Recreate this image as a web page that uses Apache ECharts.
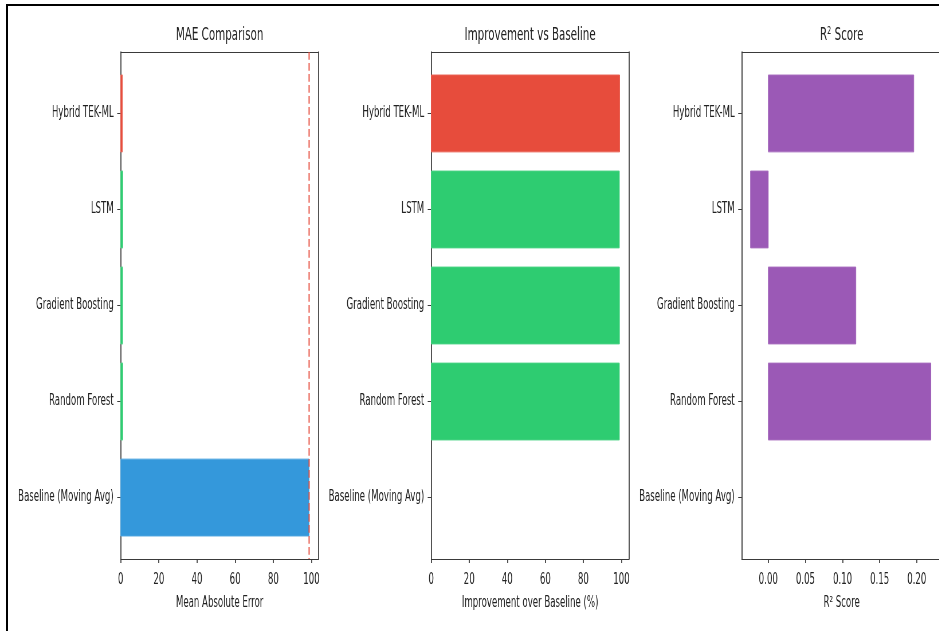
<!DOCTYPE html>
<html>
<head>
<meta charset="utf-8">
<script src="https://cdn.jsdelivr.net/npm/echarts@6/dist/echarts.min.js"></script>
<style>
html, body { margin: 0; padding: 0; background: #fff; overflow: hidden; }
#clip { position: absolute; left: 0; top: 0; width: 939px; height: 631px; overflow: hidden; }
#chart { position: absolute; left: 0; top: 0; height: 631px; transform-origin: 0 0; }
#frame { position: absolute; left: 6px; top: 4px; width: 939px; height: 631px;
         border-top: 2px solid #000; border-left: 2px solid #000; pointer-events: none; }
</style>
</head>
<body>
<div id="clip"><div id="chart"></div></div>
<div id="frame"></div>
<script>
// the source figure is squeezed horizontally, so draw wide and scale down in x
const SX = 0.573;

const categories = ['Hybrid TEK-ML', 'LSTM', 'Gradient Boosting', 'Random Forest', 'Baseline (Moving Avg)'];
const maeValues = [0.9, 1.05, 1.0, 1.05, 98.8];
const improvementValues = [99.1, 98.95, 99.0, 98.95, 0];
const r2Values = [0.196, -0.024, 0.118, 0.219, 0];
const modelColors = ['#e74c3c', '#2ecc71', '#2ecc71', '#2ecc71', '#3498db'];
const r2Colors = ['#9b59b6', '#9b59b6', '#9b59b6', '#9b59b6', '#9b59b6'];
const maeTicks = [0, 20, 40, 60, 80, 100];
const improvementTicks = [0, 20, 40, 60, 80, 100];
const r2Ticks = [0, 0.05, 0.1, 0.15, 0.2];
const categoryTicks = [0, 1, 2, 3, 4];

const Y_MIN = -0.64, Y_MAX = 4.64, BAR_H = 0.8;
const FONT = 'DejaVu Sans';
const INK = '#222';
const SPINE = '#3a3a3a';

// last panel runs past the right edge of the picture
const panels = [
    { title: 'MAE Comparison', xName: 'Mean Absolute Error', values: maeValues, colors: modelColors,
      ticks: maeTicks, min: 0, max: 103.7, digits: 0, left: 120.7, width: 197.8 },
    { title: 'Improvement vs Baseline', xName: 'Improvement over Baseline (%)', values: improvementValues, colors: modelColors,
      ticks: improvementTicks, min: 0, max: 104, digits: 0, left: 431.2, width: 197.8 },
    { title: 'R² Score', xName: 'R² Score', values: r2Values, colors: r2Colors,
      ticks: r2Ticks, min: -0.0358, max: 0.2336, digits: 2, left: 741.7, width: 200 }
];

const chartDom = document.getElementById('chart');
chartDom.style.width = Math.ceil(944 / SX) + 'px';
chartDom.style.transform = 'scaleX(' + SX + ')';

function renderBar(params, api) {
    const v = api.value(0);
    const k = api.value(1);
    if (!v) return null;
    const a = api.coord([0, k]);
    const b = api.coord([v, k]);
    const h = Math.abs(api.size([0, BAR_H])[1]);
    const fill = api.visual('color');
    return {
        type: 'rect',
        shape: { x: Math.min(a[0], b[0]), y: a[1] - h / 2, width: Math.abs(b[0] - a[0]), height: h },
        style: { fill: fill, stroke: echarts.color.lift(fill, 0.12), lineWidth: 1 }
    };
}

const grid = [], xAxis = [], yAxis = [], series = [];
panels.forEach((p, i) => {
    grid.push({ left: p.left / SX, top: 52, width: p.width / SX, height: 507, outerBoundsMode: 'none' });
    // bottom axis
    xAxis.push({
        type: 'value', gridIndex: i, position: 'bottom', min: p.min, max: p.max,
        axisLine: { onZero: false, lineStyle: { color: SPINE, width: 1 } },
        axisTick: { customValues: p.ticks, length: 4, lineStyle: { color: SPINE, width: 1 / SX } },
        axisLabel: { customValues: p.ticks, margin: 14, fontSize: 15, color: INK, fontFamily: FONT,
                     formatter: v => v.toFixed(p.digits) },
        splitLine: { show: false },
        name: p.xName, nameLocation: 'middle', nameGap: 37,
        nameTextStyle: { fontSize: 15, color: INK, fontFamily: FONT }
    });
    // top spine + panel title
    xAxis.push({
        type: 'value', gridIndex: i, position: 'top', min: p.min, max: p.max,
        axisLine: { onZero: false, lineStyle: { color: SPINE, width: 1 } },
        axisTick: { show: false }, axisLabel: { show: false }, splitLine: { show: false },
        name: p.title, nameLocation: 'middle', nameGap: 8,
        nameTextStyle: { fontSize: 18, color: INK, fontFamily: FONT }
    });
    // left axis with model names
    yAxis.push({
        type: 'value', gridIndex: i, position: 'left', inverse: true, min: Y_MIN, max: Y_MAX,
        axisLine: { onZero: false, lineStyle: { color: SPINE, width: 1 / SX } },
        axisTick: { customValues: categoryTicks, length: 3.5 / SX, lineStyle: { color: SPINE, width: 1 } },
        axisLabel: { customValues: categoryTicks, margin: 7 / SX, fontSize: 15, color: INK, fontFamily: FONT,
                     padding: [3, 0, 0, 0],
                     formatter: v => categories[Math.round(v)] },
        splitLine: { show: false }
    });
    // right spine
    yAxis.push({
        type: 'value', gridIndex: i, position: 'right', inverse: true, min: Y_MIN, max: Y_MAX,
        axisLine: { onZero: false, lineStyle: { color: SPINE, width: 1 / SX } },
        axisTick: { show: false }, axisLabel: { show: false }, splitLine: { show: false }
    });
    series.push({
        type: 'custom', xAxisIndex: i * 2, yAxisIndex: i * 2,
        renderItem: renderBar,
        encode: { x: 0, y: 1 },
        data: p.values.map((v, k) => ({ value: [v, k], itemStyle: { color: p.colors[k] } }))
    });
});

// baseline MAE reference line
series.push({
    type: 'line', xAxisIndex: 0, yAxisIndex: 0, showSymbol: false, silent: true, z: 5,
    lineStyle: { color: 'rgba(231,76,60,0.7)', width: 1.5 / SX, type: [7.7, 3.3] },
    data: [[maeValues[4], Y_MIN], [maeValues[4], Y_MAX]]
});

const chart = echarts.init(chartDom, null, { renderer: 'canvas' });
chart.setOption({
    animation: false,
    backgroundColor: '#fff',
    textStyle: { fontFamily: FONT },
    grid: grid,
    xAxis: xAxis,
    yAxis: yAxis,
    series: series
});
</script>
</body>
</html>
